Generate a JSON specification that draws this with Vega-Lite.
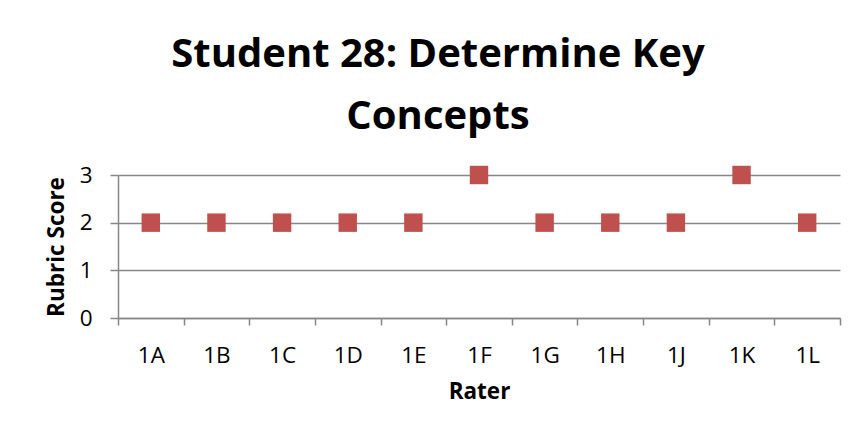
{
  "$schema": "https://vega.github.io/schema/vega-lite/v6.json",
  "autosize": {"type": "none"},
  "width": 722,
  "height": 143,
  "padding": {"left": 118, "top": 175, "right": 22, "bottom": 123},
  "background": "white",
  "title": {
    "text": ["Student 28: Determine Key", "Concepts"],
    "font": "Open Sans",
    "fontSize": 40,
    "fontWeight": "bold",
    "color": "black",
    "anchor": "middle",
    "frame": "group",
    "baseline": "bottom",
    "lineHeight": 62,
    "offset": -13,
    "dx": -41
  },
  "data": {
    "values": [
      {"rater": "1A", "score": 2},
      {"rater": "1B", "score": 2},
      {"rater": "1C", "score": 2},
      {"rater": "1D", "score": 2},
      {"rater": "1E", "score": 2},
      {"rater": "1F", "score": 3},
      {"rater": "1G", "score": 2},
      {"rater": "1H", "score": 2},
      {"rater": "1J", "score": 2},
      {"rater": "1K", "score": 3},
      {"rater": "1L", "score": 2}
    ]
  },
  "mark": {"type": "point", "shape": "square", "filled": true, "size": 340, "color": "#C0504D", "opacity": 1},
  "encoding": {
    "x": {
      "field": "rater",
      "type": "nominal",
      "sort": null,
      "scale": {"type": "band", "paddingInner": 0, "paddingOuter": 0},
      "axis": {
        "title": "Rater",
        "labelAngle": 0,
        "tickBand": "extent",
        "tickSize": 7,
        "labelPadding": 19,
        "titlePadding": 14,
        "grid": false
      }
    },
    "y": {
      "field": "score",
      "type": "quantitative",
      "scale": {"domain": [0, 3]},
      "axis": {
        "title": "Rubric Score",
        "values": [0, 1, 2, 3],
        "tickSize": 8,
        "labelPadding": 18,
        "titlePadding": 11,
        "grid": true
      }
    }
  },
  "config": {
    "view": {"stroke": null},
    "axis": {
      "labelFont": "Open Sans",
      "labelFontSize": 22.5,
      "labelColor": "black",
      "titleFont": "Open Sans",
      "titleFontSize": 22.5,
      "titleFontWeight": "bold",
      "titleColor": "black",
      "domainColor": "#878787",
      "domainWidth": 1.5,
      "tickColor": "#878787",
      "tickWidth": 1.5,
      "gridColor": "#878787",
      "gridWidth": 1.5,
      "gridOpacity": 1
    }
  }
}
